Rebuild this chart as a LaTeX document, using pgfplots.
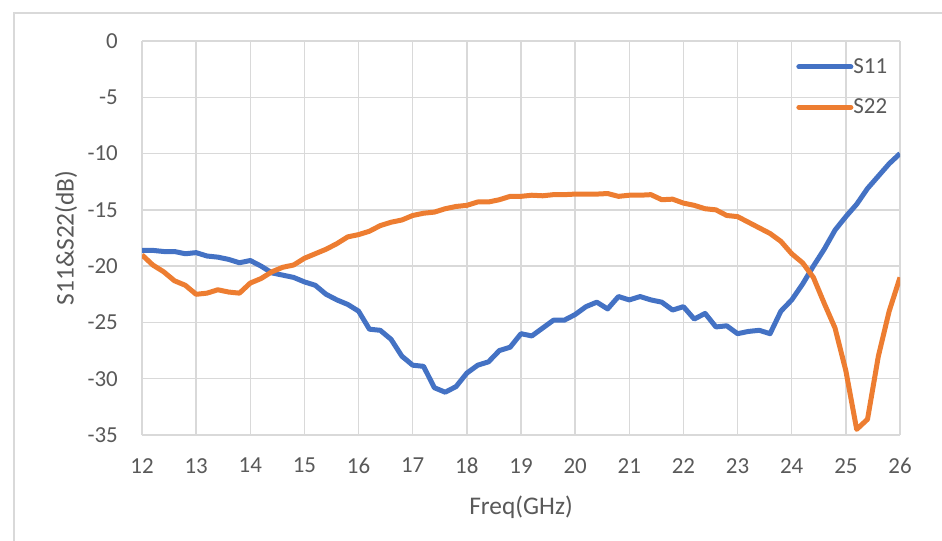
\documentclass[border=0pt]{standalone}
\usepackage{fontspec}
\setmainfont{Carlito}
\usepackage{pgfplots}
\pgfplotsset{compat=1.18}
\definecolor{sblue}{HTML}{4472C4}
\definecolor{sorange}{HTML}{ED7D31}
\definecolor{gridc}{HTML}{D9D9D9}
\definecolor{txt}{HTML}{595959}
\begin{document}
\begin{tikzpicture}
\useasboundingbox (0,0) rectangle (942bp,541bp);
\draw[gridc, line width=1.5bp] (14bp,0) -- (14bp,528bp) -- (942bp,528bp);
\begin{axis}[
  at={(142bp,106bp)}, anchor=south west,
  width=758bp, height=394bp, scale only axis,
  xmin=12, xmax=26, ymin=-35, ymax=0,
  xtick={12,13,...,26}, ytick={-35,-30,...,0},
  axis line style={draw=none},
  grid=major, major grid style={gridc, line width=1.5bp},
  major tick length=0pt,
  /pgf/number format/assume math mode=true,
  tick label style={font=\fontsize{23}{26}\selectfont, text=txt},
  xticklabel style={inner sep=0pt, anchor=north, yshift=-23bp},
  yticklabel style={inner sep=0pt, anchor=east, xshift=-24bp},
  xlabel={Freq(GHz)}, ylabel={S11\&S22(dB)},
  every axis x label/.style={at={(axis description cs:0.5,0)}, anchor=center, yshift=-72bp,
    font=\fontsize{25.5}{28}\selectfont, text=txt},
  every axis y label/.style={at={(axis description cs:0,0.5)}, rotate=90, anchor=center, yshift=76bp,
    font=\fontsize{25.5}{28}\selectfont, text=txt},
  legend style={at={(0.863,0.883)}, anchor=west, draw=none, fill=none,
    font=\fontsize{23}{26}\selectfont, text=txt, row sep=24bp, inner sep=0pt,
    nodes={inner sep=0pt}},
  legend cell align=left,
  legend image code/.code={\draw[#1, line width=5bp, line cap=round] (2bp,0bp) -- (54bp,0bp);},
]
\addplot[sblue, line width=5bp, line join=round] coordinates {
(12.0,-18.6)(12.2,-18.6)(12.4,-18.7)(12.6,-18.7)(12.8,-18.9)(13.0,-18.8)
(13.2,-19.1)(13.4,-19.2)(13.6,-19.4)(13.8,-19.7)(14.0,-19.5)(14.2,-20.0)
(14.4,-20.6)(14.6,-20.8)(14.8,-21.0)(15.0,-21.4)(15.2,-21.7)(15.4,-22.5)
(15.6,-23.0)(15.8,-23.4)(16.0,-24.0)(16.2,-25.6)(16.4,-25.7)(16.6,-26.5)
(16.8,-28.0)(17.0,-28.8)(17.2,-28.9)(17.4,-30.8)(17.6,-31.2)(17.8,-30.7)
(18.0,-29.5)(18.2,-28.8)(18.4,-28.5)(18.6,-27.5)(18.8,-27.2)(19.0,-26.0)
(19.2,-26.2)(19.4,-25.5)(19.6,-24.8)(19.8,-24.8)(20.0,-24.3)(20.2,-23.6)
(20.4,-23.2)(20.6,-23.8)(20.8,-22.7)(21.0,-23.0)(21.2,-22.7)(21.4,-23.0)
(21.6,-23.2)(21.8,-23.9)(22.0,-23.6)(22.2,-24.7)(22.4,-24.2)(22.6,-25.4)
(22.8,-25.3)(23.0,-26.0)(23.2,-25.8)(23.4,-25.7)(23.6,-26.0)(23.8,-24.0)
(24.0,-23.0)(24.2,-21.6)(24.4,-20.0)(24.6,-18.5)(24.8,-16.8)(25.0,-15.6)
(25.2,-14.5)(25.4,-13.1)(25.6,-12.0)(25.8,-10.9)(26.0,-10.0)
};
\addlegendentry{S11}
\addplot[sorange, line width=5bp, line join=round] coordinates {
(12.0,-19.0)(12.2,-19.9)(12.4,-20.5)(12.6,-21.3)(12.8,-21.7)(13.0,-22.5)
(13.2,-22.4)(13.4,-22.1)(13.6,-22.3)(13.8,-22.4)(14.0,-21.5)(14.2,-21.1)
(14.4,-20.5)(14.6,-20.1)(14.8,-19.9)(15.0,-19.3)(15.2,-18.9)(15.4,-18.5)
(15.6,-18.0)(15.8,-17.4)(16.0,-17.2)(16.2,-16.9)(16.4,-16.4)(16.6,-16.1)
(16.8,-15.9)(17.0,-15.5)(17.2,-15.3)(17.4,-15.2)(17.6,-14.9)(17.8,-14.7)
(18.0,-14.6)(18.2,-14.3)(18.4,-14.3)(18.6,-14.1)(18.8,-13.8)(19.0,-13.8)
(19.2,-13.7)(19.4,-13.75)(19.6,-13.65)(19.8,-13.65)(20.0,-13.6)(20.2,-13.6)
(20.4,-13.6)(20.6,-13.55)(20.8,-13.8)(21.0,-13.7)(21.2,-13.7)(21.4,-13.65)
(21.6,-14.1)(21.8,-14.05)(22.0,-14.4)(22.2,-14.6)(22.4,-14.9)(22.6,-15.0)
(22.8,-15.5)(23.0,-15.6)(23.2,-16.1)(23.4,-16.6)(23.6,-17.1)(23.8,-17.8)
(24.0,-18.9)(24.2,-19.7)(24.4,-21.0)(24.6,-23.3)(24.8,-25.5)(25.0,-29.3)
(25.2,-34.5)(25.4,-33.6)(25.6,-28.0)(25.8,-24.0)(26.0,-21.0)
};
\addlegendentry{S22}
\end{axis}
\end{tikzpicture}
\end{document}
